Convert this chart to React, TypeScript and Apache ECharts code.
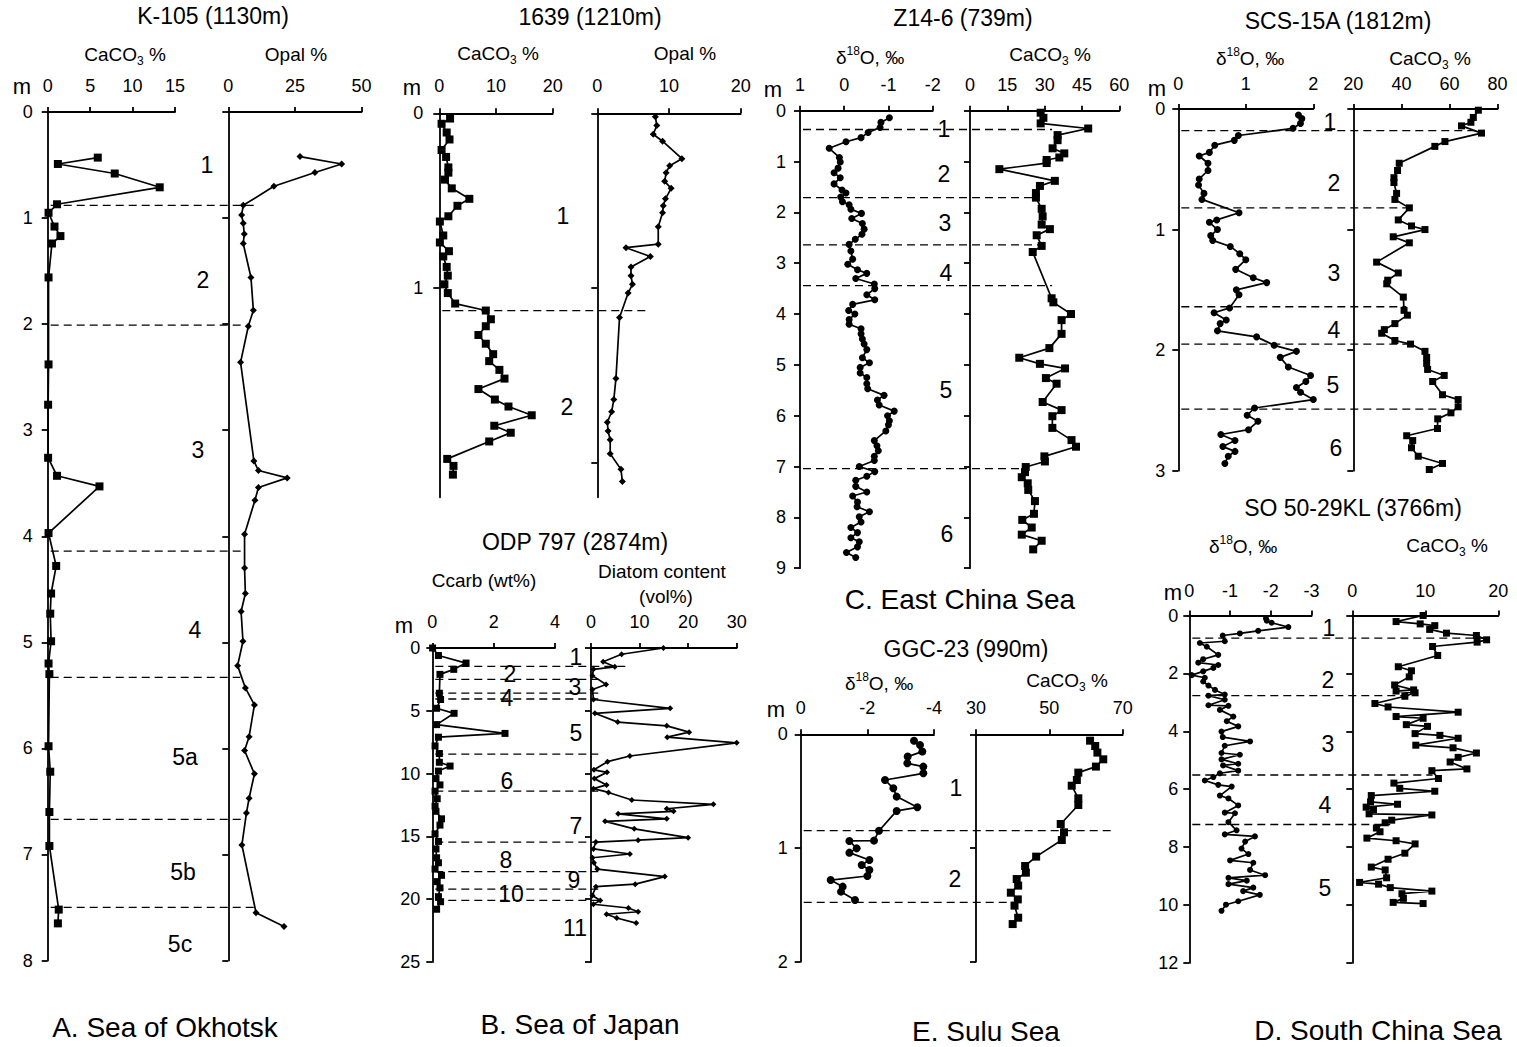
import React, { useEffect, useRef } from 'react';
import * as echarts from 'echarts';

const FONT = "'Liberation Sans', Arial, Helvetica, sans-serif";
type P = [number, number]; // [depth (m), value]

// ---------- A. Sea of Okhotsk : K-105 ----------
const K105_CACO3: P[] = [[0.43,5.9],[0.49,1.2],[0.58,7.9],[0.71,13.2],[0.87,1.1],[0.95,0.1],[1.08,0.8],[1.17,1.5],[1.24,0.5],[1.56,0.1],[2.38,0.1],[2.76,0.05],[3.26,0.05],[3.43,1.1],[3.53,6.1],[3.97,0.1],[4.28,1.0],[4.54,0.4],[4.73,0.3],[4.99,0.4],[5.2,0.1],[5.3,0.2],[5.98,0.1],[6.22,0.3],[6.6,0.2],[6.92,0.2],[7.52,1.3],[7.65,1.2]];
const K105_OPAL: P[] = [[0.42,26.9],[0.49,42.5],[0.57,32.5],[0.7,17.1],[0.88,5.6],[0.97,5.0],[1.05,5.6],[1.15,6.0],[1.24,5.6],[1.56,8.5],[1.87,9.4],[2.02,7.5],[2.36,4.6],[3.29,9.6],[3.38,11.3],[3.45,22.1],[3.54,11.3],[3.66,10.0],[3.98,6.1],[4.3,6.1],[4.54,6.4],[4.71,4.8],[4.99,5.5],[5.22,3.5],[5.43,6.4],[5.59,9.8],[5.89,7.8],[6.02,6.1],[6.24,9.8],[6.47,7.8],[6.61,6.8],[6.91,5.1],[7.55,10.4],[7.68,20.9]];
const K105_BOUNDS: P[] = [[0.88,11],[2.01,6],[4.14,6],[5.33,4.5],[6.67,6],[7.5,10]];
const K105_STAGES: [string, number][] = [['1',0.5],['2',1.58],['3',3.19],['4',4.88],['5a',6.08],['5b',7.17],['5c',7.84]];

// ---------- B. Sea of Japan : 1639 ----------
const S1639_CACO3: P[] = [[0.03,1.9],[0.06,0.4],[0.11,1.3],[0.15,1.8],[0.21,0.4],[0.25,1.2],[0.31,1.6],[0.34,1.6],[0.38,1.0],[0.43,2.2],[0.49,5.3],[0.53,3.2],[0.59,1.6],[0.62,0.1],[0.7,0.7],[0.74,0.1],[0.79,1.7],[0.82,0.7],[0.88,1.3],[0.93,1.5],[0.98,0.9],[1.03,1.5],[1.09,2.8],[1.13,8.2],[1.18,9.1],[1.22,8.2],[1.27,6.9],[1.32,8.2],[1.38,9.5],[1.42,8.8],[1.47,10.6],[1.52,11.5],[1.58,6.9],[1.64,9.8],[1.68,12.2],[1.73,16.3],[1.79,9.7],[1.83,12.6],[1.88,8.8],[1.98,1.4],[2.02,2.5],[2.07,2.4]];
const S1639_OPAL: P[] = [[0.02,8.1],[0.07,8.3],[0.12,7.8],[0.16,9.1],[0.26,11.8],[0.3,10.1],[0.34,9.6],[0.39,9.4],[0.43,10.3],[0.49,9.5],[0.53,9.2],[0.57,9.1],[0.65,8.5],[0.75,8.5],[0.77,4.0],[0.82,7.4],[0.88,4.7],[0.93,4.7],[0.98,4.9],[1.03,4.3],[1.17,3.1],[1.52,2.6],[1.64,2.3],[1.71,2.0],[1.77,1.4],[1.82,1.5],[1.87,1.8],[1.95,1.8],[2.04,3.3],[2.11,3.5]];
const S1639_BOUNDS: P[] = [[1.13,7.3]];
const S1639_STAGES: [string, number][] = [['1',0.59],['2',1.68]];

// ---------- B. Sea of Japan : ODP 797 ----------
const ODP_CCARB: P[] = [[0,0.01],[0.6,0.2],[1.2,1.1],[1.7,0.7],[2.1,0.25],[3.6,0.23],[4.1,0.27],[4.8,0.14],[5.2,0.71],[6.1,0.14],[6.8,2.37],[7.1,0.2],[7.8,0.09],[8.4,0.23],[9.1,0.23],[9.4,0.58],[9.8,0.2],[10.4,0.12],[10.9,0.25],[11.4,0.09],[12.0,0.16],[12.6,0.09],[13.0,0.12],[13.6,0.3],[14.1,0.25],[14.8,0.09],[15.4,0.2],[16.0,0.12],[16.7,0.14],[17.1,0.2],[17.6,0.09],[18.1,0.3],[18.6,0.16],[19.1,0.25],[19.8,0.2],[20.2,0.27],[20.8,0.14]];
const ODP_DIATOM: P[] = [[0,14.9],[0.5,6.3],[1.1,2.5],[1.5,4.9],[1.7,0.5],[2.2,0.3],[2.9,3.1],[3.3,0.3],[4.1,0.5],[4.8,16.3],[5.2,0.8],[5.9,5.5],[6.2,15.6],[6.7,20.2],[7.1,15.7],[7.55,30.0],[8.6,8.0],[9.05,3.4],[9.7,0.6],[9.9,3.3],[10.4,0.7],[10.9,3.2],[11.2,0.5],[11.5,3.6],[12.1,8.4],[12.45,25.2],[12.8,15.6],[13.0,17.0],[13.2,5.6],[13.6,15.6],[13.8,2.9],[14.4,8.9],[15.1,20.0],[15.3,9.7],[15.45,1.0],[16.0,0.5],[16.4,8.0],[16.7,0.3],[17.1,0.6],[17.6,1.3],[18.2,15.2],[18.8,9.1],[19.0,1.0],[19.7,0.3],[20.1,1.9],[20.4,0.5],[20.7,7.7],[21.0,9.7],[21.2,3.2],[21.5,5.3],[21.9,9.3]];
const ODP_BOUNDS: P[] = [[1.47,8],[2.5,1.5],[3.6,1.5],[4.06,1.5],[8.45,1.5],[11.4,1.5],[15.45,1.5],[17.8,1.5],[19.2,1.5],[20.1,1.5]];
const ODP_STAGES: [string, number][] = [['1',0.74],['2',2.1],['3',3.1],['4',3.95],['5',6.73],['6',10.6],['7',14.2],['8',16.9],['9',18.5],['10',19.6],['11',22.3]];

// ---------- C. East China Sea : Z14-6 ----------
const Z14_D18O: P[] = [[0.14,-1.02],[0.23,-0.83],[0.33,-0.81],[0.43,-0.54],[0.53,-0.38],[0.61,-0.04],[0.74,0.34],[0.92,0.11],[1.01,0.09],[1.13,0.14],[1.22,0.23],[1.32,0.09],[1.44,0.23],[1.56,0.05],[1.62,-0.04],[1.7,0.08],[1.79,0.04],[1.85,-0.11],[1.94,-0.15],[2.02,-0.39],[2.12,-0.17],[2.22,-0.41],[2.33,-0.45],[2.43,-0.4],[2.53,-0.25],[2.63,-0.11],[2.76,-0.15],[2.92,-0.19],[3.02,-0.08],[3.13,-0.3],[3.2,-0.51],[3.3,-0.26],[3.41,-0.68],[3.5,-0.69],[3.62,-0.51],[3.72,-0.69],[3.81,-0.19],[3.93,-0.1],[4.0,-0.24],[4.11,-0.11],[4.2,-0.11],[4.29,-0.38],[4.39,-0.38],[4.49,-0.41],[4.59,-0.45],[4.7,-0.51],[4.86,-0.41],[4.96,-0.57],[5.05,-0.36],[5.16,-0.36],[5.25,-0.51],[5.37,-0.51],[5.47,-0.53],[5.6,-0.9],[5.69,-0.75],[5.79,-0.79],[5.91,-1.13],[6.0,-0.98],[6.1,-1.02],[6.18,-1.0],[6.3,-0.94],[6.49,-0.68],[6.59,-0.74],[6.69,-0.77],[6.8,-0.68],[6.88,-0.68],[7.0,-0.34],[7.1,-0.69],[7.19,-0.51],[7.27,-0.26],[7.39,-0.26],[7.5,-0.51],[7.58,-0.19],[7.7,-0.3],[7.79,-0.29],[7.89,-0.57],[7.99,-0.34],[8.09,-0.38],[8.2,-0.15],[8.3,-0.3],[8.4,-0.15],[8.48,-0.34],[8.58,-0.3],[8.69,-0.05],[8.79,-0.26]];
const Z14_CACO3: P[] = [[0.04,28.4],[0.14,29.5],[0.25,28.4],[0.35,47.5],[0.48,35.2],[0.58,35.2],[0.74,33.2],[0.84,37.9],[0.92,35.9],[0.97,30.8],[1.03,30.8],[1.15,11.8],[1.38,34.1],[1.48,28.1],[1.62,26.5],[1.71,26.5],[1.93,28.8],[2.08,29.2],[2.24,28.8],[2.33,32.1],[2.45,26.8],[2.66,28.8],[2.78,25.2],[3.69,32.8],[3.77,33.5],[4.0,40.6],[4.12,36.8],[4.39,36.8],[4.67,31.9],[4.86,19.8],[4.98,28.1],[5.07,38.2],[5.26,30.5],[5.37,34.8],[5.73,29.2],[5.89,36.8],[6.01,33.1],[6.24,33.1],[6.48,40.8],[6.61,42.6],[6.8,29.9],[6.9,30.1],[7.01,22.4],[7.11,22.1],[7.21,20.8],[7.33,23.2],[7.46,23.4],[7.68,26.1],[7.93,25.7],[8.05,21.0],[8.2,24.8],[8.34,20.8],[8.46,28.8],[8.63,25.4]];
const Z14_BOUNDS: P[] = [[0.37,33],[1.71,27],[2.64,29],[3.44,33],[7.04,23]];
const Z14_STAGES: [string, number][] = [['1',0.36],['2',1.25],['3',2.21],['4',3.19],['5',5.5],['6',8.32]];

// ---------- E. Sulu Sea : GGC-23 ----------
const GGC_D18O: P[] = [[0.056,-3.4],[0.094,-3.58],[0.152,-3.65],[0.196,-3.21],[0.255,-3.2],[0.284,-3.68],[0.343,-3.68],[0.402,-2.53],[0.475,-2.78],[0.548,-2.88],[0.642,-3.5],[0.674,-2.88],[0.848,-2.35],[0.935,-2.2],[0.938,-1.46],[1.003,-1.68],[1.041,-1.46],[1.106,-2.06],[1.15,-1.83],[1.194,-2.06],[1.246,-2.0],[1.282,-0.9],[1.34,-1.26],[1.384,-1.21],[1.457,-1.63]];
const GGC_CACO3: P[] = [[0.056,61.1],[0.103,62.5],[0.161,63.1],[0.22,64.7],[0.284,62.7],[0.337,57.9],[0.402,57.5],[0.452,56.1],[0.563,57.9],[0.622,57.9],[0.789,53.1],[0.862,54.0],[0.93,53.4],[1.076,46.4],[1.158,43.4],[1.217,43.6],[1.273,41.1],[1.331,41.5],[1.393,39.5],[1.452,41.4],[1.507,40.5],[1.613,41.5],[1.669,40.0]];
const GGC_BOUNDS: P[] = [[0.848,67],[1.478,40]];
const GGC_STAGES: [string, number][] = [['1',0.47],['2',1.27]];

// ---------- D. South China Sea : SCS-15A ----------
const SCS_D18O: P[] = [[0.05,1.78],[0.08,1.83],[0.12,1.81],[0.16,1.7],[0.22,0.89],[0.26,0.83],[0.3,0.54],[0.36,0.46],[0.39,0.31],[0.45,0.44],[0.51,0.44],[0.58,0.31],[0.63,0.3],[0.7,0.38],[0.75,0.35],[0.86,0.9],[0.92,0.57],[0.94,0.46],[1.0,0.58],[1.05,0.48],[1.09,0.51],[1.14,0.77],[1.2,0.91],[1.25,1.0],[1.33,0.85],[1.4,1.11],[1.44,1.31],[1.5,0.86],[1.54,0.9],[1.65,0.76],[1.69,0.53],[1.75,0.71],[1.78,0.62],[1.84,0.58],[1.89,1.16],[1.96,1.42],[2.01,1.75],[2.06,1.51],[2.14,1.63],[2.21,1.96],[2.26,1.89],[2.31,1.75],[2.35,1.81],[2.41,2.0],[2.48,1.13],[2.54,1.02],[2.59,1.18],[2.66,1.04],[2.7,0.63],[2.75,0.84],[2.8,0.66],[2.84,0.84],[2.88,0.74],[2.94,0.69]];
const SCS_CACO3: P[] = [[0.01,72.0],[0.07,69.9],[0.11,68.9],[0.14,65.0],[0.2,73.3],[0.27,58.1],[0.31,53.9],[0.45,39.1],[0.51,38.4],[0.57,36.9],[0.61,36.9],[0.7,38.0],[0.75,37.3],[0.82,43.3],[0.92,38.7],[0.97,44.2],[1.0,49.8],[1.06,36.6],[1.11,43.3],[1.27,29.7],[1.36,38.7],[1.42,34.3],[1.45,33.9],[1.56,40.8],[1.67,41.1],[1.71,42.5],[1.78,37.3],[1.83,32.9],[1.86,31.8],[1.92,37.3],[1.95,43.8],[2.01,49.8],[2.06,50.5],[2.11,50.5],[2.16,50.9],[2.21,57.8],[2.26,53.0],[2.37,57.1],[2.41,63.6],[2.47,63.6],[2.52,60.6],[2.57,55.1],[2.65,55.0],[2.71,42.2],[2.75,44.7],[2.81,44.2],[2.88,47.0],[2.94,57.1],[2.99,51.6]];
const SCS_BOUNDS: P[] = [[0.18,73],[0.82,45],[1.64,42],[1.95,44],[2.49,64]];
const SCS_STAGES: [string, number][] = [['1',0.105],['2',0.61],['3',1.36],['4',1.83],['5',2.29],['6',2.81]];

// ---------- D. South China Sea : SO 50-29KL ----------
const SO_D18O: P[] = [[0.1,-1.88],[0.18,-1.9],[0.25,-2.02],[0.4,-2.43],[0.53,-1.69],[0.62,-1.24],[0.69,-0.82],[0.89,-0.87],[0.95,-0.26],[1.08,-0.43],[1.36,-0.71],[1.51,-0.34],[1.63,-0.22],[1.71,-0.71],[1.81,-0.59],[1.93,-0.34],[2.06,-0.06],[2.15,-0.38],[2.28,-0.34],[2.42,-0.47],[2.57,-0.63],[2.73,-0.87],[2.77,-0.47],[2.91,-0.87],[3.1,-0.47],[3.12,-0.96],[3.26,-0.75],[3.49,-1.08],[3.65,-0.92],[3.83,-1.2],[4.01,-0.79],[4.2,-0.82],[4.35,-1.49],[4.5,-0.87],[4.75,-0.79],[4.81,-1.24],[4.97,-0.79],[5.12,-1.2],[5.18,-0.83],[5.36,-1.2],[5.45,-0.75],[5.58,-0.59],[5.7,-0.38],[5.85,-0.71],[5.91,-1.04],[6.22,-0.75],[6.32,-0.96],[6.56,-1.2],[6.81,-0.87],[6.83,-1.12],[7.14,-0.96],[7.42,-1.16],[7.56,-0.87],[7.63,-1.61],[7.81,-1.37],[8.05,-1.28],[8.24,-1.45],[8.46,-1.0],[8.54,-1.57],[8.79,-1.49],[8.97,-1.86],[9.06,-0.96],[9.16,-1.41],[9.28,-0.96],[9.4,-1.57],[9.52,-1.32],[9.65,-1.73],[9.87,-1.2],[9.99,-0.9],[10.2,-0.79]];
const SO_CACO3: P[] = [[0.0,9.7],[0.21,6.0],[0.29,9.3],[0.35,11.3],[0.48,10.6],[0.61,12.9],[0.69,17.0],[0.84,18.4],[0.92,17.1],[1.07,11.0],[1.38,11.7],[1.77,6.3],[1.91,8.1],[2.12,7.8],[2.4,5.8],[2.57,8.4],[2.61,6.0],[2.67,8.6],[2.79,7.2],[3.04,3.1],[3.16,4.9],[3.34,14.5],[3.49,6.0],[3.55,9.7],[3.77,7.4],[3.83,10.3],[4.08,8.6],[4.14,12.0],[4.24,14.5],[4.48,8.7],[4.57,13.8],[4.75,17.0],[4.9,14.5],[5.06,13.4],[5.3,15.7],[5.36,10.9],[5.63,11.8],[5.79,5.7],[5.97,6.5],[6.07,11.3],[6.22,2.6],[6.44,2.5],[6.52,6.2],[6.62,1.9],[6.71,2.9],[6.85,2.3],[6.89,10.9],[7.07,5.4],[7.16,4.5],[7.34,3.3],[7.47,3.8],[7.69,2.0],[7.78,6.0],[7.89,8.6],[8.21,7.2],[8.42,4.9],[8.69,2.6],[8.79,4.5],[9.06,4.7],[9.22,1.0],[9.28,3.6],[9.4,5.2],[9.52,10.9],[9.61,6.8],[9.77,7.0],[9.91,5.6],[9.95,9.7]];
const SO_BOUNDS: P[] = [[0.78,18],[2.77,8.3],[5.51,11],[7.22,5.2]];
const SO_STAGES: [string, number][] = [['1',0.42],['2',2.24],['3',4.44],['4',6.56],['5',9.42]];

// ---------- axis names (rich text) ----------
const CACO3 = '{n|CaCO}{s|3}{n| %}';
const D18O = '{n|\u03b4}{p|18}{n|O, \u2030}';

// ---------- layout ----------
const PANELS: any[] = [
  { title: 'K-105 (1130m)', titlePos: [213, 16], yMax: 8, yInterval: 1, xMargin: 17, yMargin: 15, m: [22, 86],
    stageX: [207, 203, 198, 195, 185, 183, 180], stages: K105_STAGES, bounds: K105_BOUNDS,
    sides: [
      { grid: [47.7, 112, 127.3, 848.5], min: 0, max: 15, interval: 5, name: CACO3, namePos: [125, 54], data: K105_CACO3, symbol: 'rect', size: 8 },
      { grid: [228.3, 112, 133.3, 848.5], min: 0, max: 50, interval: 25, name: '{n|Opal %}', namePos: [296, 54], data: K105_OPAL, symbol: 'diamond', size: 7 },
    ] },
  { title: '1639 (1210m)', titlePos: [590, 17], yMax: 2.2, yInterval: 1, yTicks: [0, 1, 2], xMargin: 18, yMargin: 16, m: [412, 87],
    stageX: [563, 567], stages: S1639_STAGES, bounds: S1639_BOUNDS,
    sides: [
      { grid: [439.3, 113.3, 113.4, 384], min: 0, max: 20, interval: 10, name: CACO3, namePos: [498, 53], data: S1639_CACO3, symbol: 'rect', size: 8 },
      { grid: [597.3, 113.3, 143.4, 384], min: 0, max: 20, interval: 10, name: '{n|Opal %}', namePos: [685, 53], data: S1639_OPAL, symbol: 'diamond', size: 7 },
    ] },
  { title: 'ODP 797 (2874m)', titlePos: [575, 542], yMax: 25, yInterval: 5, xMargin: 17, yMargin: 12, m: [404, 625],
    stageX: [576, 510, 575, 507, 576, 507, 576, 506, 574, 511, 575], stages: ODP_STAGES, bounds: ODP_BOUNDS,
    sides: [
      { grid: [432.3, 648, 122.7, 314], min: 0, max: 4, interval: 2, name: '{n|Ccarb (wt%)}', namePos: [484, 580], data: ODP_CCARB, symbol: 'rect', size: 7 },
      { grid: [591, 648, 145.7, 314], min: 0, max: 30, interval: 10, name: '{n|Diatom content}', namePos: [662, 571], name2: '(vol%)', name2Pos: [666, 596], data: ODP_DIATOM, symbol: 'diamond', size: 6 },
    ] },
  { title: 'Z14-6 (739m)', titlePos: [963, 18], yMax: 9, yInterval: 1, xMargin: 17, yMargin: 14, m: [773, 89],
    stageX: [944, 944, 945, 946, 946, 947], stages: Z14_STAGES, bounds: Z14_BOUNDS,
    sides: [
      { grid: [800, 110.7, 132.7, 457.5], min: -2, max: 1, interval: 1, inverse: true, name: D18O, namePos: [870, 57], data: Z14_D18O, symbol: 'circle', size: 7 },
      { grid: [970, 110.7, 149.3, 457.5], min: 0, max: 60, interval: 15, name: CACO3, namePos: [1050, 54], data: Z14_CACO3, symbol: 'rect', size: 8 },
    ] },
  { title: 'GGC-23 (990m)', titlePos: [966, 649], yMax: 2, yInterval: 1, xMargin: 17, yMargin: 13, m: [776, 709],
    stageX: [956, 955], stages: GGC_STAGES, bounds: GGC_BOUNDS,
    sides: [
      { grid: [800.7, 734.3, 133.3, 227.4], min: -4, max: 0, interval: 2, inverse: true, name: D18O, namePos: [879, 683], data: GGC_D18O, symbol: 'circle', size: 8 },
      { grid: [976, 734.3, 146.7, 227.4], min: 30, max: 70, ticks: [30, 50, 70], name: CACO3, namePos: [1067, 680], data: GGC_CACO3, symbol: 'rect', size: 8 },
    ] },
  { title: 'SCS-15A (1812m)', titlePos: [1338, 21], yMax: 3, yInterval: 1, xMargin: 16, yMargin: 13, m: [1157, 88],
    stageX: [1330, 1334, 1334, 1334, 1333, 1336], stages: SCS_STAGES, bounds: SCS_BOUNDS,
    sides: [
      { grid: [1178.3, 109, 135, 361.7], min: 0, max: 2, interval: 1, name: D18O, namePos: [1250, 58], data: SCS_D18O, symbol: 'circle', size: 7 },
      { grid: [1353.3, 109, 144.3, 361.7], min: 20, max: 80, interval: 20, name: CACO3, namePos: [1430, 58], data: SCS_CACO3, symbol: 'rect', size: 7 },
    ] },
  { title: 'SO 50-29KL (3766m)', titlePos: [1353, 508], yMax: 12, yInterval: 2, xMargin: 16, yMargin: 11, m: [1173, 592],
    stageX: [1329, 1328, 1328, 1325, 1325], stages: SO_STAGES, bounds: SO_BOUNDS,
    sides: [
      { grid: [1189.3, 615.5, 122.3, 347.4], min: -3, max: 0, interval: 1, inverse: true, name: D18O, namePos: [1243, 546], data: SO_D18O, symbol: 'circle', size: 6 },
      { grid: [1352.3, 615.5, 146, 347.4], min: 0, max: 20, interval: 10, name: CACO3, namePos: [1447, 545], data: SO_CACO3, symbol: 'rect', size: 7 },
    ] },
];

const CAPTIONS: [string, number, number][] = [
  ['A. Sea of Okhotsk', 165, 1027],
  ['B. Sea of Japan', 580, 1024],
  ['C. East China Sea', 960, 599],
  ['E. Sulu Sea', 986, 1031],
  ['D. South China Sea', 1378, 1030],
];

const AXIS_STYLE = { color: '#000', width: 1.8 };

function buildOption() {
  const grid: any[] = [], xAxis: any[] = [], yAxis: any[] = [], series: any[] = [];
  PANELS.forEach((p, pi) => {
    p.sides.forEach((s: any, si: number) => {
      const k = pi * 2 + si;
      const [l, t, w, h] = s.grid;
      grid.push({ left: l, top: t, width: w, height: h, containLabel: false });
      const xa: any = {
        type: 'value', gridIndex: k, position: 'top', min: s.min, max: s.max, inverse: !!s.inverse,
        axisLine: { show: true, onZero: false, lineStyle: AXIS_STYLE },
        axisTick: { show: true, inside: false, length: 5, lineStyle: AXIS_STYLE },
        axisLabel: { show: true, color: '#000', fontSize: 18, fontFamily: FONT, margin: p.xMargin },
        splitLine: { show: false },
      };
      if (s.interval !== undefined) xa.interval = s.interval;
      if (s.ticks) {
        xa.axisTick.customValues = s.ticks;
        xa.axisLabel.customValues = s.ticks;
      }
      xAxis.push(xa);
      const ya: any = {
        type: 'value', gridIndex: k, inverse: true, min: 0, max: p.yMax, interval: p.yInterval,
        axisLine: { show: true, onZero: false, lineStyle: AXIS_STYLE },
        axisTick: { show: true, inside: false, length: 6, lineStyle: AXIS_STYLE },
        axisLabel: { show: si === 0, color: '#000', fontSize: 18, fontFamily: FONT, margin: p.yMargin },
        splitLine: { show: false },
      };
      if (p.yTicks) {
        ya.axisTick.customValues = p.yTicks;
        ya.axisLabel.customValues = p.yTicks;
        ya.axisLabel.showMaxLabel = false;
      }
      yAxis.push(ya);
      series.push({
        type: 'line', xAxisIndex: k, yAxisIndex: k,
        data: s.data.map((d: P) => [d[1], d[0]]),
        symbol: s.symbol, symbolSize: s.size, showAllSymbol: true,
        lineStyle: { color: '#000', width: 1.7 }, itemStyle: { color: '#000' },
        emphasis: { disabled: true }, silent: true, clip: false, z: 3,
      });
    });
  });
  return { animation: false, backgroundColor: '#fff', grid, xAxis, yAxis, series };
}

function richStyles(fs: number) {
  const lh = fs + 6;
  return {
    n: { fontSize: fs, fontFamily: FONT, fill: '#000', lineHeight: lh, verticalAlign: 'middle' },
    s: { fontSize: Math.round(fs * 0.62), fontFamily: FONT, fill: '#000', lineHeight: lh, verticalAlign: 'bottom' },
    p: { fontSize: Math.round(fs * 0.62), fontFamily: FONT, fill: '#000', lineHeight: lh, verticalAlign: 'top' },
  };
}

function text(x: number, y: number, t: string, fs: number, rich?: boolean) {
  const style: any = {
    text: t, fontSize: fs, fontFamily: FONT, fill: '#000',
    align: 'center', verticalAlign: 'middle', textAlign: 'center', textVerticalAlign: 'middle',
  };
  if (rich) style.rich = richStyles(fs);
  return { type: 'text', x, y, z: 10, silent: true, style };
}

function buildGraphics(chart: any) {
  const els: any[] = [];
  PANELS.forEach((p, pi) => {
    const kL = pi * 2, kR = pi * 2 + 1;
    els.push(text(p.titlePos[0], p.titlePos[1], p.title, 23));
    els.push(text(p.m[0], p.m[1], 'm', 22));
    p.sides.forEach((s: any) => {
      els.push(text(s.namePos[0], s.namePos[1], s.name, 19, true));
      if (s.name2) els.push(text(s.name2Pos[0], s.name2Pos[1], s.name2, 19));
    });
    const x0 = p.sides[0].grid[0] + 3;
    p.bounds.forEach((b: P) => {
      const y = chart.convertToPixel({ yAxisIndex: kL }, b[0]);
      const x1 = chart.convertToPixel({ xAxisIndex: kR }, b[1]);
      els.push({
        type: 'line', z: 1, silent: true,
        shape: { x1: x0, y1: y, x2: x1, y2: y },
        style: { stroke: '#000', lineWidth: 1.3, lineDash: [8, 5] },
      });
    });
    p.stages.forEach((st: [string, number], i: number) => {
      const y = chart.convertToPixel({ yAxisIndex: kL }, st[1]);
      els.push(text(p.stageX[i], y, st[0], 23));
    });
  });
  CAPTIONS.forEach(([t, x, y]) => els.push(text(x, y, t, 28)));
  return els;
}

export default function App() {
  const ref = useRef<HTMLDivElement>(null);
  useEffect(() => {
    if (!ref.current) return;
    const chart = echarts.init(ref.current, null, { renderer: 'svg', width: 1517, height: 1047 });
    chart.setOption(buildOption());
    chart.setOption({ graphic: buildGraphics(chart) });
    return () => chart.dispose();
  }, []);
  return (
    <div
      ref={ref}
      style={{ position: 'absolute', left: 0, top: 0, width: 1517, height: 1047, background: '#fff' }}
    />
  );
}
